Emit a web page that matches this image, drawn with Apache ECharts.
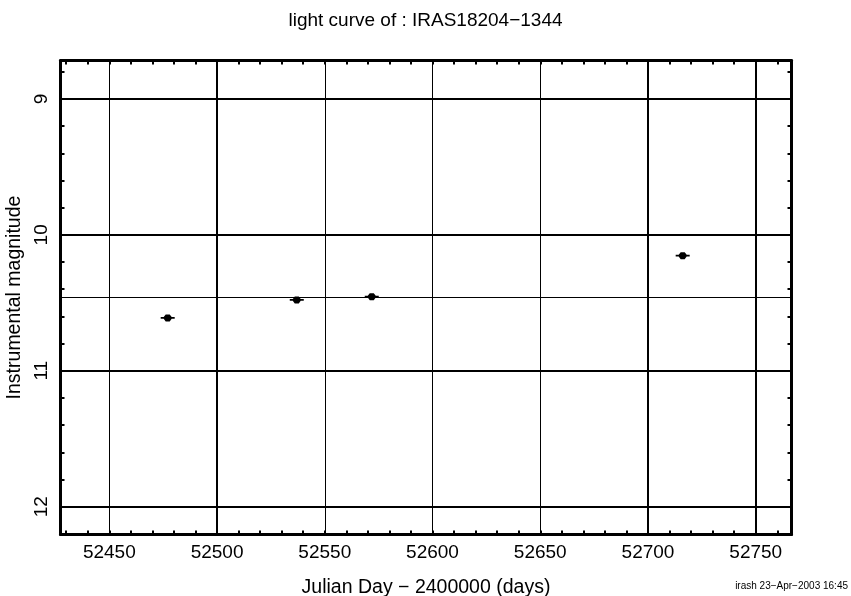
<!DOCTYPE html>
<html>
<head>
<meta charset="utf-8">
<script src="https://cdn.jsdelivr.net/npm/echarts@6/dist/echarts.min.js"></script>
<style>html,body{margin:0;padding:0;background:#fff}#c{width:851px;height:596px}</style>
</head>
<body>
<div id="c"></div>
<script>
// ---- data ----
var julianDays = [52477.1, 52537.0, 52571.8, 52716.1];
var magnitudes = [10.611, 10.479, 10.455, 10.153];
var meanMagnitude = 10.457;
var xTickLabels = [52450, 52500, 52550, 52600, 52650, 52700, 52750];
var yTickLabels = [9, 10, 11, 12];
var xThickGrid = [52500, 52700, 52750];
var xThinGrid = [52450, 52550, 52600, 52650];
var yThickGrid = [9, 10, 11, 12];
var xMinorTicks = [];
for (var v = 52430; v <= 52760; v += 10) xMinorTicks.push(v);
var yMinorTicks = [];
for (var k = 44; k <= 61; k++) yMinorTicks.push(+(k * 0.2).toFixed(1));

var X_MIN = 52427.35, X_MAX = 52766.6, Y_MIN = 8.717, Y_MAX = 12.205;
var FONT = 'Liberation Sans, Arial, sans-serif';

var chart = echarts.init(document.getElementById('c'));
function frameAxis(extra) {
  return Object.assign({
    type: 'value',
    axisLine: {show: true, onZero: false, lineStyle: {color: '#000', width: 3}},
    splitLine: {show: false},
    axisPointer: {show: false}
  }, extra);
}
var markData = [];
xThickGrid.forEach(function (x) { markData.push({xAxis: x, lineStyle: {width: 2}}); });
xThinGrid.forEach(function (x) { markData.push({xAxis: x, lineStyle: {width: 1}}); });
yThickGrid.forEach(function (y) { markData.push({yAxis: y, lineStyle: {width: 2}}); });
markData.push({yAxis: meanMagnitude, lineStyle: {width: 1}});

chart.setOption({
  animation: false,
  backgroundColor: '#fff',
  title: {
    text: 'light curve of : IRAS18204\u22121344',
    left: 'center', top: 6,
    textStyle: {fontFamily: FONT, fontSize: 19, fontWeight: 'normal', color: '#000'}
  },
  grid: {left: 60.5, right: 59.5, top: 60.5, bottom: 61.5, outerBoundsMode: 'none', containLabel: false},
  xAxis: [
    frameAxis({
      position: 'bottom', min: X_MIN, max: X_MAX,
      axisTick: {show: true, inside: true, length: 4, customValues: xMinorTicks, lineStyle: {color: '#000', width: 2}},
      axisLabel: {customValues: xTickLabels, fontFamily: FONT, fontSize: 19, color: '#000', margin: 9,
        formatter: function (v) { return String(v); }},
      name: 'Julian Day \u2212 2400000 (days)', nameLocation: 'middle', nameGap: 43,
      nameTextStyle: {fontFamily: FONT, fontSize: 19.5, color: '#000'}
    }),
    frameAxis({
      position: 'top', min: X_MIN, max: X_MAX,
      axisTick: {show: true, inside: true, length: 4, customValues: xMinorTicks, lineStyle: {color: '#000', width: 2}},
      axisLabel: {show: false}
    })
  ],
  yAxis: [
    frameAxis({
      position: 'left', min: Y_MIN, max: Y_MAX, inverse: true,
      axisTick: {show: true, inside: true, length: 4, customValues: yMinorTicks, lineStyle: {color: '#000', width: 2}},
      axisLabel: {customValues: yTickLabels, rotate: 90, fontFamily: FONT, fontSize: 19, color: '#000', margin: 9,
        formatter: function (v) { return String(v); }},
      name: 'Instrumental magnitude', nameLocation: 'middle', nameGap: 33, nameRotate: 90,
      nameTextStyle: {fontFamily: FONT, fontSize: 19.5, color: '#000'}
    }),
    frameAxis({
      position: 'right', min: Y_MIN, max: Y_MAX, inverse: true,
      axisTick: {show: true, inside: true, length: 4, customValues: yMinorTicks, lineStyle: {color: '#000', width: 2}},
      axisLabel: {show: false}
    })
  ],
  series: [{
    type: 'scatter',
    xAxisIndex: 0, yAxisIndex: 0,
    data: julianDays.map(function (x, i) { return [x, magnitudes[i]]; }),
    symbol: 'path://M0,3L3,3L5,0L9,0L11,3L14,3L14,5L11,5L9,8L5,8L3,5L0,5Z',
    symbolSize: [14, 7],
    itemStyle: {color: '#000', opacity: 1},
    z: 5,
    markLine: {
      silent: true, symbol: 'none', label: {show: false},
      lineStyle: {color: '#000', type: 'solid'},
      emphasis: {disabled: true},
      data: markData
    }
  }],
  graphic: [{
    type: 'text', right: 3, top: 581,
    style: {text: 'irash 23\u2212Apr\u22122003 16:45', font: '10px ' + FONT, fill: '#000'}
  }]
});
</script>
</body>
</html>
